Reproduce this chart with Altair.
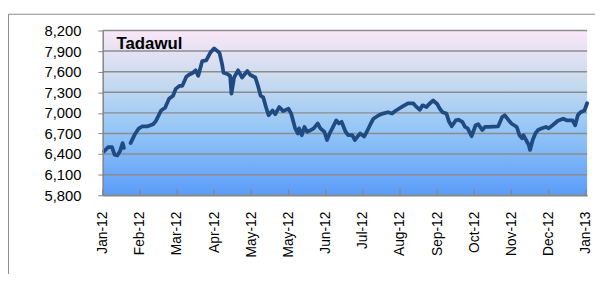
import altair as alt
import pandas as pd

# ---- data ----
dates = [
    "2012-01-02", "2012-01-05", "2012-01-08", "2012-01-10", "2012-01-12", "2012-01-14", "2012-01-16", "2012-01-17",
    "2012-01-22", "2012-01-25", "2012-01-28", "2012-01-31", "2012-02-04", "2012-02-08", "2012-02-10", "2012-02-14",
    "2012-02-17", "2012-02-20", "2012-02-23", "2012-02-25", "2012-02-28", "2012-03-01", "2012-03-04", "2012-03-06",
    "2012-03-09", "2012-03-11", "2012-03-13", "2012-03-16", "2012-03-19", "2012-03-22", "2012-03-25", "2012-03-29",
    "2012-03-31", "2012-04-01", "2012-04-04", "2012-04-06", "2012-04-07", "2012-04-09", "2012-04-12", "2012-04-15",
    "2012-04-19", "2012-04-21", "2012-04-25", "2012-04-27", "2012-04-29", "2012-05-01", "2012-05-03", "2012-05-05",
    "2012-05-08", "2012-05-10", "2012-05-13", "2012-05-16", "2012-05-20", "2012-05-22", "2012-05-25", "2012-05-27",
    "2012-05-28", "2012-05-30", "2012-06-01", "2012-06-03", "2012-06-06", "2012-06-08", "2012-06-11", "2012-06-13",
    "2012-06-16", "2012-06-18", "2012-06-20", "2012-06-22", "2012-06-25", "2012-06-27", "2012-06-29", "2012-07-02",
    "2012-07-04", "2012-07-07", "2012-07-09", "2012-07-11", "2012-07-13", "2012-07-16", "2012-07-18", "2012-07-21",
    "2012-07-23", "2012-07-27", "2012-07-30", "2012-08-03", "2012-08-06", "2012-08-09", "2012-08-14", "2012-08-18",
    "2012-08-22", "2012-08-24", "2012-08-27", "2012-08-29", "2012-09-01", "2012-09-03", "2012-09-06", "2012-09-09",
    "2012-09-11", "2012-09-13", "2012-09-16", "2012-09-18", "2012-09-20", "2012-09-23", "2012-09-25", "2012-09-28",
    "2012-09-30", "2012-10-02", "2012-10-05", "2012-10-08", "2012-10-10", "2012-10-13", "2012-10-15", "2012-10-18",
    "2012-10-25", "2012-10-28", "2012-10-30", "2012-11-02", "2012-11-04", "2012-11-08", "2012-11-10", "2012-11-12",
    "2012-11-13", "2012-11-15", "2012-11-17", "2012-11-18", "2012-11-20", "2012-11-22", "2012-11-24", "2012-11-27",
    "2012-11-30", "2012-12-02", "2012-12-05", "2012-12-09", "2012-12-13", "2012-12-16", "2012-12-20", "2012-12-22",
    "2012-12-24", "2012-12-26", "2012-12-29", "2012-12-31",
]
values = [
    6440, 6500, 6500, 6390, 6380, 6440, 6560, 6490,
    6560, 6680, 6770, 6805, 6805, 6835, 6880, 7035,
    7075, 7205, 7250, 7350, 7395, 7395, 7525, 7555,
    7585, 7620, 7540, 7755, 7765, 7875, 7940, 7875,
    7705, 7585, 7565, 7540, 7280, 7515, 7620, 7515,
    7610, 7555, 7515, 7395, 7250, 7225, 7085, 6965,
    7035, 6980, 7085, 7025, 7060, 6990, 6775, 6700,
    6775, 6675, 6795, 6725, 6750, 6775, 6845, 6775,
    6725, 6605, 6700, 6775, 6890, 6845, 6870, 6725,
    6675, 6675, 6605, 6655, 6700, 6655, 6725, 6845,
    6915, 6965, 6990, 7010, 6990, 7035, 7095, 7140,
    7140, 7095, 7045, 7110, 7085, 7130, 7180, 7130,
    7060, 7010, 6990, 6870, 6805, 6890, 6900, 6870,
    6795, 6775, 6660, 6820, 6835, 6750, 6795, 6795,
    6805, 6940, 6965, 6890, 6845, 6795, 6675, 6630,
    6675, 6605, 6535, 6460, 6605, 6700, 6750, 6775,
    6795, 6775, 6820, 6885, 6915, 6890, 6890, 6820,
    6965, 7010, 7035, 7140,
]
# the line has a short break in late January
segments = [0] * 8 + [1] * (len(values) - 8)

tick_dates = ["2012-01-01", "2012-01-29", "2012-02-26", "2012-03-25", "2012-04-22", "2012-05-20", "2012-06-17",
              "2012-07-15", "2012-08-12", "2012-09-09", "2012-10-07", "2012-11-04", "2012-12-02", "2012-12-30"]
tick_labels = ["Jan-12", "Feb-12", "Mar-12", "Apr-12", "May-12", "May-12", "Jun-12",
               "Jul-12", "Aug-12", "Sep-12", "Oct-12", "Nov-12", "Dec-12", "Jan-13"]
y_ticks = [5800, 6100, 6400, 6700, 7000, 7300, 7600, 7900, 8200]
title_text = "Tadawul"

# ---- build ----
W, H = 491, 167
FONT = "Liberation Sans"
GRID = "#8c8c8c"
AXIS = "#868686"

df = pd.DataFrame({"date": dates, "value": values, "seg": segments})
ticks_df = pd.DataFrame({"date": tick_dates})
grid_df = pd.DataFrame({"y": y_ticks})
one = pd.DataFrame({"a": [0]})

tick_ms = [int(pd.Timestamp(d, tz="UTC").value // 10**6) for d in tick_dates]
t0 = tick_ms[0]
step = tick_ms[1] - tick_ms[0]
label_expr = "[" + ",".join("'%s'" % s for s in tick_labels) + "][round((datum.value - %d) / %d)]" % (t0, step)

x_scale = alt.Scale(domain=[alt.DateTime(year=2012, month=1, date=1, utc=True),
                            alt.DateTime(year=2012, month=12, date=31, utc=True)])
y_scale = alt.Scale(domain=[5800, 8200], nice=False, zero=False)

x_axis = alt.Axis(values=tick_ms, labelExpr=label_expr, labelAngle=270, ticks=False, tickSize=0,
                  labelPadding=16, domainColor=AXIS, domainWidth=1.5, grid=False, title=None,
                  labelFont=FONT, labelFontSize=14, labelColor="black", labelOverlap=False, zindex=1)
y_axis = alt.Axis(values=y_ticks, labelExpr="format(datum.value, ',')", tickSize=5, tickColor=AXIS,
                  domainColor=AXIS, domainWidth=1.5, labelPadding=17, grid=False, title=None,
                  labelFont=FONT, labelFontSize=15, labelColor="black", labelOverlap=False, zindex=1)

gradient = alt.Gradient(
    gradient="linear",
    stops=[
        alt.GradientStop(color="#f9e7f7", offset=0.0),
        alt.GradientStop(color="#c9dbef", offset=0.3),
        alt.GradientStop(color="#94c6f6", offset=0.6),
        alt.GradientStop(color="#5b9cf8", offset=1.0),
    ],
    x1=0, x2=0, y1=0, y2=1,
)

border = alt.Chart(one).mark_rect(fillOpacity=0, stroke="#8a8a8a", strokeWidth=1).encode(
    x=alt.value(-95.5), x2=alt.value(W + 40), y=alt.value(-16.5), y2=alt.value(H + 200)
)
bg = alt.Chart(one).mark_rect(color=gradient).encode(
    x=alt.value(0), x2=alt.value(W), y=alt.value(0), y2=alt.value(H)
)
grid = alt.Chart(grid_df).mark_rule(color=GRID, strokeWidth=1.5).encode(
    y=alt.Y("y:Q", scale=y_scale, axis=y_axis)
)
xticks = alt.Chart(ticks_df).mark_rule(color=AXIS, strokeWidth=1.2).encode(
    x=alt.X("date:T", scale=x_scale, axis=x_axis), y=alt.value(H - 6), y2=alt.value(H)
)
line = alt.Chart(df).mark_line(color="#1f4b82", strokeWidth=3.8, strokeJoin="round", strokeCap="round").encode(
    x=alt.X("date:T", scale=x_scale, axis=x_axis),
    y=alt.Y("value:Q", scale=y_scale, axis=y_axis),
    detail="seg:N",
)
title = alt.Chart(one).mark_text(text=title_text, font=FONT, fontSize=17, fontWeight="bold", color="black",
                                 align="left", baseline="alphabetic").encode(x=alt.value(14), y=alt.value(19))

chart = alt.layer(border, bg, grid, xticks, line, title).properties(
    width=W, height=H,
    autosize=alt.AutoSizeParams(type="none"),
    padding={"left": 96, "top": 21, "right": 8, "bottom": 78},
    background="white",
).configure_view(stroke=None)

chart.save("out.html", embed_options={"renderer": "svg", "actions": False})
